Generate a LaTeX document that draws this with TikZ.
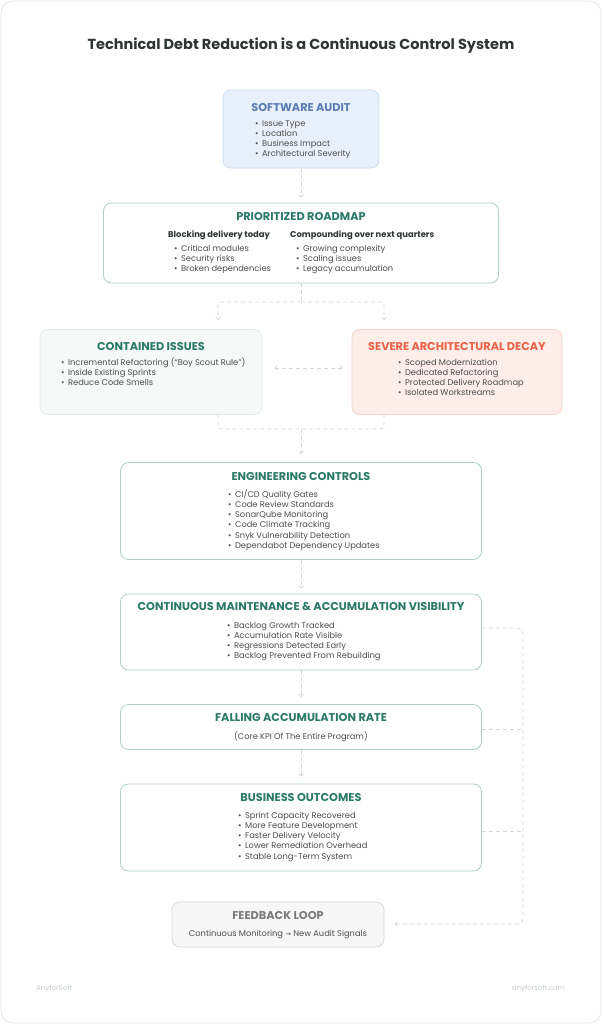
\documentclass[tikz,border=0pt]{standalone}
\usepackage{fontspec}
\setmainfont{Poppins}
\newfontfamily\djv{DejaVu Sans}
\usetikzlibrary{arrows.meta,calc}
\definecolor{lineC}{HTML}{D3D8D7}
\definecolor{boxG}{HTML}{AFCFC6}
\definecolor{tealT}{HTML}{2B7A68}
\definecolor{auditF}{HTML}{E7F0FB}
\definecolor{auditD}{HTML}{C9DCF1}
\definecolor{auditT}{HTML}{5A7DB5}
\definecolor{contF}{HTML}{F5F9F8}
\definecolor{contD}{HTML}{E5EDEB}
\definecolor{sevF}{HTML}{FDEEE9}
\definecolor{sevD}{HTML}{F7D3C8}
\definecolor{sevT}{HTML}{EA6248}
\definecolor{fbF}{HTML}{F7F7F7}
\definecolor{fbD}{HTML}{D7D7D7}
\definecolor{fbT}{HTML}{7A7A7A}
\definecolor{txt}{HTML}{4D4D4D}
\definecolor{headT}{HTML}{2E3533}
\definecolor{frameD}{HTML}{E4E8E7}
\definecolor{foot}{HTML}{C5CCCB}
\begin{document}
\begin{tikzpicture}[x=1pt,y=-1pt,
  gbox/.style={draw=boxG, fill=white, line width=0.8pt, rounded corners=8pt, inner sep=0pt},
  ttl/.style={font=\fontsize{11.3}{13}\selectfont\bfseries, text=tealT, inner sep=0pt, text height=7.9pt, text depth=0pt},
  item/.style={anchor=west, inner sep=0pt, font=\fontsize{8.3}{10}\selectfont, text=txt, text height=5.8pt, text depth=1.7pt},
  head/.style={anchor=west, inner sep=0pt, font=\fontsize{8.4}{10}\selectfont\bfseries, text=headT, text height=5.9pt, text depth=1.7pt},
  conn/.style={draw=lineC, line width=0.7pt, dash pattern=on 4pt off 3pt},
  arr/.style={-{Straight Barb[length=2.5pt,width=5pt]}},
  darr/.style={{Straight Barb[length=2.5pt,width=5pt]}-{Straight Barb[length=2.5pt,width=5pt]}}
]
\useasboundingbox (0,0) rectangle (602,1024);
\draw[draw=frameD, fill=white, line width=0.8pt, rounded corners=12pt] (1,1) rectangle (601,1023);

% title
\node[inner sep=0pt, font=\fontsize{14.5}{16}\selectfont\bfseries, text=headT] (title) at (301,46) {Technical Debt Reduction is a Continuous Control System};

% software audit
\node[gbox, fill=auditF, draw=auditD, minimum width=156pt, minimum height=78pt] (audit) at (301,129) {};
\node[ttl, text=auditT] (auditT) at (301,108) {SOFTWARE AUDIT};
\foreach \t [count=\i from 0] in {Issue Type,Location,Business Impact,Architectural Severity}
  \node[item] (audit-\i) at (255,{124+10.3*\i}) {•\hspace{3.5pt}\t};

% roadmap
\node[gbox, minimum width=395pt, minimum height=80pt] (roadmap) at (301,243) {};
\node[ttl] (roadmapT) at (301,217) {PRIORITIZED ROADMAP};
\node[head] (hL) at (168,235) {Blocking delivery today};
\node[head] (hR) at (290,235) {Compounding over next quarters};
\foreach \t [count=\i from 0] in {Critical modules,Security risks,Broken dependencies}
  \node[item] (rl-\i) at (174,{249+10.2*\i}) {•\hspace{3.5pt}\t};
\foreach \t [count=\i from 0] in {Growing complexity,Scaling issues,Legacy accumulation}
  \node[item] (rr-\i) at (296,{249+10.2*\i}) {•\hspace{3.5pt}\t};

% contained issues
\node[gbox, fill=contF, draw=contD, minimum width=222pt, minimum height=85pt] (contained) at (151,372) {};
\node[ttl] (containedT) at (151,347) {CONTAINED ISSUES};
\foreach \t [count=\i from 0] in {Incremental Refactoring (“Boy Scout Rule”),Inside Existing Sprints,Reduce Code Smells}
  \node[item] (ci-\i) at (61,{363+10.3*\i}) {•\hspace{3.5pt}\t};

% severe decay
\node[gbox, fill=sevF, draw=sevD, minimum width=210pt, minimum height=85pt] (severe) at (457,372) {};
\node[ttl, text=sevT] (severeT) at (457,347) {SEVERE ARCHITECTURAL DECAY};
\foreach \t [count=\i from 0] in {Scoped Modernization,Dedicated Refactoring,Protected Delivery Roadmap,Isolated Workstreams}
  \node[item] (si-\i) at (398,{363+10.3*\i}) {•\hspace{3.5pt}\t};

% engineering controls
\node[gbox, minimum width=361pt, minimum height=97pt] (eng) at (301,511) {};
\node[ttl] (engT) at (301,477) {ENGINEERING CONTROLS};
\foreach \t [count=\i from 0] in {CI/CD Quality Gates,Code Review Standards,SonarQube Monitoring,Code Climate Tracking,Snyk Vulnerability Detection,Dependabot Dependency Updates}
  \node[item] (ei-\i) at (228,{495+10.25*\i}) {•\hspace{3.5pt}\t};

% continuous maintenance
\node[gbox, minimum width=361pt, minimum height=76pt] (maint) at (301,632) {};
\node[ttl] (maintT) at (301,607) {CONTINUOUS MAINTENANCE \& ACCUMULATION VISIBILITY};
\foreach \t [count=\i from 0] in {Backlog Growth Tracked,Accumulation Rate Visible,Regressions Detected Early,Backlog Prevented From Rebuilding}
  \node[item] (mi-\i) at (227,{626+10.3*\i}) {•\hspace{3.5pt}\t};

% falling accumulation
\node[gbox, minimum width=361pt, minimum height=45pt] (falling) at (301,727) {};
\node[ttl] (fallingT) at (301,718) {FALLING ACCUMULATION RATE};
\node[item, anchor=center] (fallingS) at (301,737) {(Core KPI Of The Entire Program)};

% business outcomes
\node[gbox, minimum width=361pt, minimum height=87pt] (business) at (301,827.5) {};
\node[ttl] (businessT) at (301,798) {BUSINESS OUTCOMES};
\foreach \t [count=\i from 0] in {Sprint Capacity Recovered,More Feature Development,Faster Delivery Velocity,Lower Remediation Overhead,Stable Long-Term System}
  \node[item] (bi-\i) at (238,{816+10.25*\i}) {•\hspace{3.5pt}\t};

% feedback loop
\node[gbox, fill=fbF, draw=fbD, minimum width=212pt, minimum height=45pt] (feedback) at (278,924.5) {};
\node[ttl, text=fbT] (feedbackT) at (278,916) {FEEDBACK LOOP};
\node[item, anchor=center] (feedbackS) at (278,934) {Continuous Monitoring {\djv\fontsize{7}{9}\selectfont →} New Audit Signals};

% footer
\node[inner sep=0pt, anchor=west, font=\fontsize{7}{9}\selectfont, text=foot] (footL) at (36,989) {AnyforSoft};
\node[inner sep=0pt, anchor=east, font=\fontsize{7}{9}\selectfont, text=foot] (footR) at (565,989) {anyforsoft.com};

% connectors
\draw[conn, arr, shorten >=5pt] (audit.south) -- (roadmap.north);
\coordinate (split) at (301,302);
\coordinate (cIn) at (218,320);
\coordinate (sIn) at (384,320);
\draw[conn] (roadmap.south) -- (split);
\draw[conn, arr, rounded corners=3pt] (split) -| (cIn);
\draw[conn, arr, rounded corners=3pt] (split) -| (sIn);
\draw[conn, darr, shorten <=12pt, shorten >=9pt] ([yshift=4pt]contained.east) -- ([yshift=4pt]severe.west);
\coordinate (cOut) at (218,414);
\coordinate (sOut) at (384,414);
\coordinate (merge) at (301,429);
\draw[conn, rounded corners=3pt] (cOut) |- (merge) -| (sOut);
\draw[conn, arr, shorten >=8pt] (merge) -- (eng.north);
\draw[conn, arr, shorten >=5pt] (eng.south) -- (maint.north);
\draw[conn, arr, shorten >=7pt] (maint.south) -- (falling.north);
\draw[conn, arr, shorten >=7pt] (falling.south) -- (business.north);
\coordinate (loopTop) at (523,628);
\coordinate (loopBot) at (523,924);
\draw[conn, arr, rounded corners=6pt, shorten >=10pt] (maint.east |- loopTop) -- (loopTop) -- (loopBot) -- (feedback.east |- loopBot);
\draw[conn] ([yshift=-2pt]falling.east) -- ([yshift=-2pt]falling.east -| loopTop);
\draw[conn] ([yshift=-4pt]business.east) -- ([yshift=-4pt]business.east -| loopTop);
\end{tikzpicture}
\end{document}
